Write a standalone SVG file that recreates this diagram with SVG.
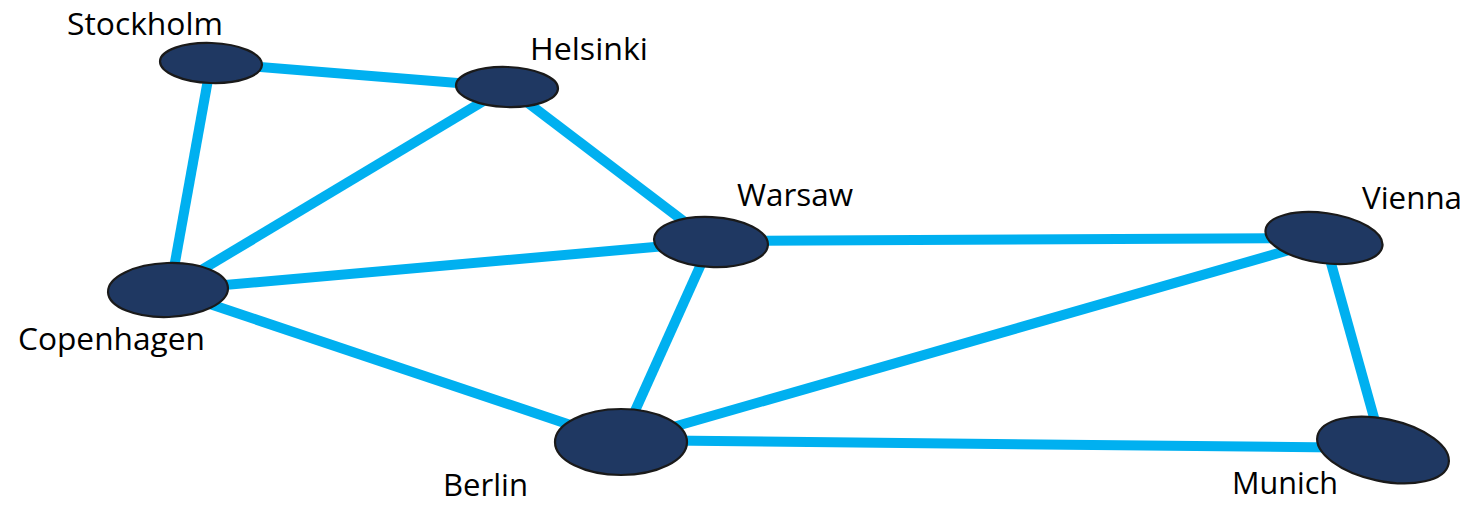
<svg xmlns="http://www.w3.org/2000/svg" width="1473" height="505" viewBox="0 0 1473 505">
<style>
.edge{stroke:#00B0F0;stroke-width:10;stroke-linecap:butt;fill:none}
.node{fill:#1F3862;stroke:#1a1a1a;stroke-width:2.2}
.lbl{font-family:"Open Sans","Noto Sans",sans-serif;font-size:31px;fill:#000}
</style>
<rect width="1473" height="505" fill="#fff"/>
<g id="connectors">
<line class="edge" x1="211" y1="63" x2="507" y2="87"/>
<line class="edge" x1="211" y1="63" x2="170" y2="290"/>
<line class="edge" x1="507" y1="87" x2="168" y2="290"/>
<line class="edge" x1="507" y1="87" x2="711" y2="242"/>
<line class="edge" x1="168" y1="290" x2="711" y2="242"/>
<line class="edge" x1="168" y1="290" x2="621" y2="442"/>
<line class="edge" x1="711" y1="242" x2="621" y2="442"/>
<line class="edge" x1="711" y1="241" x2="1324" y2="238"/>
<line class="edge" x1="1324" y1="240" x2="621" y2="442"/>
<line class="edge" x1="1324" y1="238" x2="1383" y2="450"/>
<line class="edge" x1="621" y1="440" x2="1383" y2="448"/>
</g>
<g id="stockholm">
<ellipse class="node" cx="211" cy="63" rx="51" ry="20" transform="rotate(2 211 63)"/>
<text class="lbl" x="67" y="35" textLength="156" lengthAdjust="spacingAndGlyphs">Stockholm</text>
</g>
<g id="helsinki">
<ellipse class="node" cx="507" cy="87" rx="51" ry="20" transform="rotate(2 507 87)"/>
<text class="lbl" x="530" y="60" textLength="118" lengthAdjust="spacingAndGlyphs">Helsinki</text>
</g>
<g id="copenhagen">
<ellipse class="node" cx="168" cy="290" rx="60" ry="27" transform="rotate(-2 168 290)"/>
<text class="lbl" x="18" y="350" textLength="187" lengthAdjust="spacingAndGlyphs">Copenhagen</text>
</g>
<g id="warsaw">
<ellipse class="node" cx="711" cy="242" rx="57" ry="25" transform="rotate(3 711 242)"/>
<text class="lbl" x="737" y="206" textLength="116" lengthAdjust="spacingAndGlyphs">Warsaw</text>
</g>
<g id="vienna">
<ellipse class="node" cx="1324" cy="238" rx="59" ry="25" transform="rotate(8 1324 238)"/>
<text class="lbl" x="1362" y="209" textLength="100" lengthAdjust="spacingAndGlyphs">Vienna</text>
</g>
<g id="berlin">
<ellipse class="node" cx="621" cy="442" rx="66" ry="33"/>
<text class="lbl" x="443" y="496" textLength="85" lengthAdjust="spacingAndGlyphs">Berlin</text>
</g>
<g id="munich">
<ellipse class="node" cx="1383" cy="450" rx="67" ry="31" transform="rotate(12 1383 450)"/>
<text class="lbl" x="1232" y="494" textLength="106" lengthAdjust="spacingAndGlyphs">Munich</text>
</g>
</svg>
